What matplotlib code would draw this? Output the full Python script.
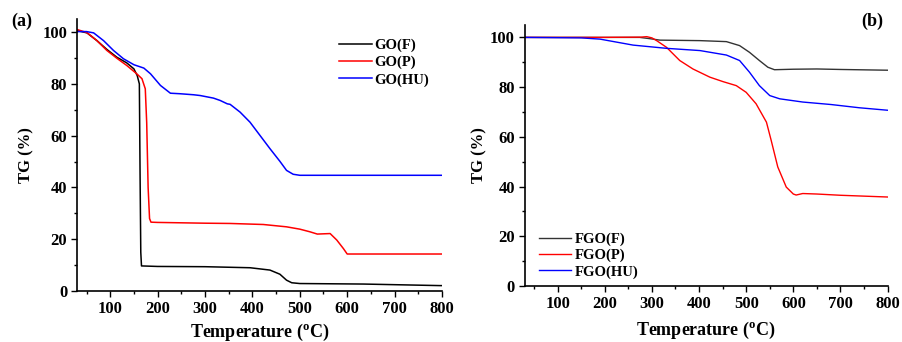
import matplotlib
matplotlib.use("Agg")
import matplotlib.pyplot as plt
from matplotlib.ticker import MultipleLocator

plt.rcParams['font.family'] = 'Liberation Serif'
plt.rcParams['font.weight'] = 'bold'

# ---- panel (a) data
goF_T = [30, 51, 72, 93, 114, 135, 150, 157, 161.5, 163, 164.5, 166, 200, 300, 395, 437, 458, 472, 483, 500, 634, 796, 800]
goF_TG = [100.6, 99.7, 96.7, 93.3, 90.3, 88.1, 85.8, 83.2, 80, 45, 15, 9.7, 9.5, 9.4, 9.0, 8.1, 6.5, 4.2, 3.2, 2.9, 2.7, 2.1, 2.1]
goP_T = [30, 51, 72, 93, 114, 135, 156, 167, 174, 177, 180, 183, 186, 200, 300, 353, 423, 472, 500, 521, 537, 564, 578, 592, 600, 800]
goP_TG = [101, 99.8, 96.7, 92.9, 89.9, 87.1, 83.9, 82, 78.1, 65, 40, 28, 26.6, 26.5, 26.2, 26.1, 25.7, 24.8, 23.9, 22.9, 22.0, 22.2, 19.7, 16.4, 14.3, 14.3]
goHU_T = [30, 50, 65, 86, 107, 128, 150, 171, 185, 206, 227, 247, 276, 290, 318, 332, 347, 353, 374, 395, 416, 437, 458, 472, 486, 500, 800]
goHU_TG = [100.2, 100.2, 99.7, 96.7, 92.9, 89.7, 87.4, 86.1, 83.9, 79.4, 76.4, 76.2, 75.8, 75.5, 74.5, 73.6, 72.3, 72.1, 69.1, 65.2, 60.1, 55.0, 50.1, 46.6, 45.1, 44.7, 44.7]

# ---- panel (b) data
fgoF_T = [30, 190, 274, 295, 317, 402, 458, 486, 507, 528, 546, 560, 600, 650, 700, 800]
fgoF_TG = [100, 100, 100, 99.5, 98.9, 98.7, 98.3, 96.7, 94.0, 90.7, 88.0, 87.0, 87.2, 87.3, 87.1, 86.8]
fgoP_T = [30, 190, 275, 289, 300, 310, 331, 359, 387, 423, 451, 479, 500, 521, 543, 553, 567, 585, 600, 606, 620, 650, 700, 800]
fgoP_TG = [100, 100, 100.1, 100.3, 99.8, 98.7, 96.0, 90.7, 87.3, 84.0, 82.2, 80.6, 77.9, 73.3, 65.9, 58.6, 47.9, 39.8, 37.0, 36.6, 37.2, 37.0, 36.5, 35.8]
fgoHU_T = [30, 150, 190, 260, 331, 402, 458, 486, 507, 528, 550, 571, 620, 680, 740, 800]
fgoHU_TG = [100, 99.8, 99.3, 96.9, 95.6, 94.7, 92.9, 90.7, 86.0, 80.6, 76.6, 75.3, 74.0, 73.0, 71.7, 70.7]


def style_axis(ax, ylabelpad, xlabelpad):
    ax.set_xlim(30, 800)
    ax.set_ylim(0, 105)
    ax.spines['top'].set_visible(False)
    ax.spines['right'].set_visible(False)
    for s in ('left', 'bottom'):
        ax.spines[s].set_linewidth(1.2)
    ax.xaxis.set_major_locator(MultipleLocator(100))
    ax.xaxis.set_minor_locator(MultipleLocator(50))
    ax.yaxis.set_major_locator(MultipleLocator(20))
    ax.yaxis.set_minor_locator(MultipleLocator(10))
    ax.tick_params(which='major', length=4, width=1, labelsize=12, direction='out', pad=3)
    ax.tick_params(which='minor', length=2.5, width=1, direction='out')
    for lab in ax.get_xticklabels() + ax.get_yticklabels():
        lab.set_fontweight('bold')
    ax.set_xlabel('Temperature ($\\mathregular{^o}$C)', fontsize=13, fontweight='bold', labelpad=xlabelpad)
    ax.set_ylabel('TG (%)', fontsize=12, fontweight='bold', labelpad=ylabelpad)


fig = plt.figure(figsize=(9.02, 3.42), dpi=100)
ax1 = fig.add_axes([0.0854, 0.149, 0.4046, 0.795])
ax2 = fig.add_axes([0.5817, 0.1637, 0.4023, 0.7633])

ax1.plot(goF_T, goF_TG, color='black', lw=1.1, label='GO(F)')
ax1.plot(goP_T, goP_TG, color='red', lw=1.1, label='GO(P)')
ax1.plot(goHU_T, goHU_TG, color='blue', lw=1.1, label='GO(HU)')
style_axis(ax1, 6, 3.5)
ax1.legend(loc='upper left', bbox_to_anchor=(0.695, 0.96), frameon=False,
           prop={'weight': 'bold', 'size': 10.5}, handlelength=2.2,
           handletextpad=0.2, labelspacing=0.25, borderaxespad=0.2)
fig.text(0.012, 0.925, '(a)', fontsize=13, fontweight='bold')

ax2.plot(fgoF_T, fgoF_TG, color='#333333', lw=1.0, label='FGO(F)')
ax2.plot(fgoP_T, fgoP_TG, color='red', lw=1.0, label='FGO(P)')
ax2.plot(fgoHU_T, fgoHU_TG, color='blue', lw=1.0, label='FGO(HU)')
style_axis(ax2, 2, 6)
ax2.legend(loc='lower left', bbox_to_anchor=(0.02, 0.0), frameon=False,
           prop={'weight': 'bold', 'size': 10.5}, handlelength=2.2,
           handletextpad=0.2, labelspacing=0.2, borderaxespad=0.1)
fig.text(0.955, 0.925, '(b)', fontsize=13, fontweight='bold')

fig.savefig('out.png', dpi=100)
